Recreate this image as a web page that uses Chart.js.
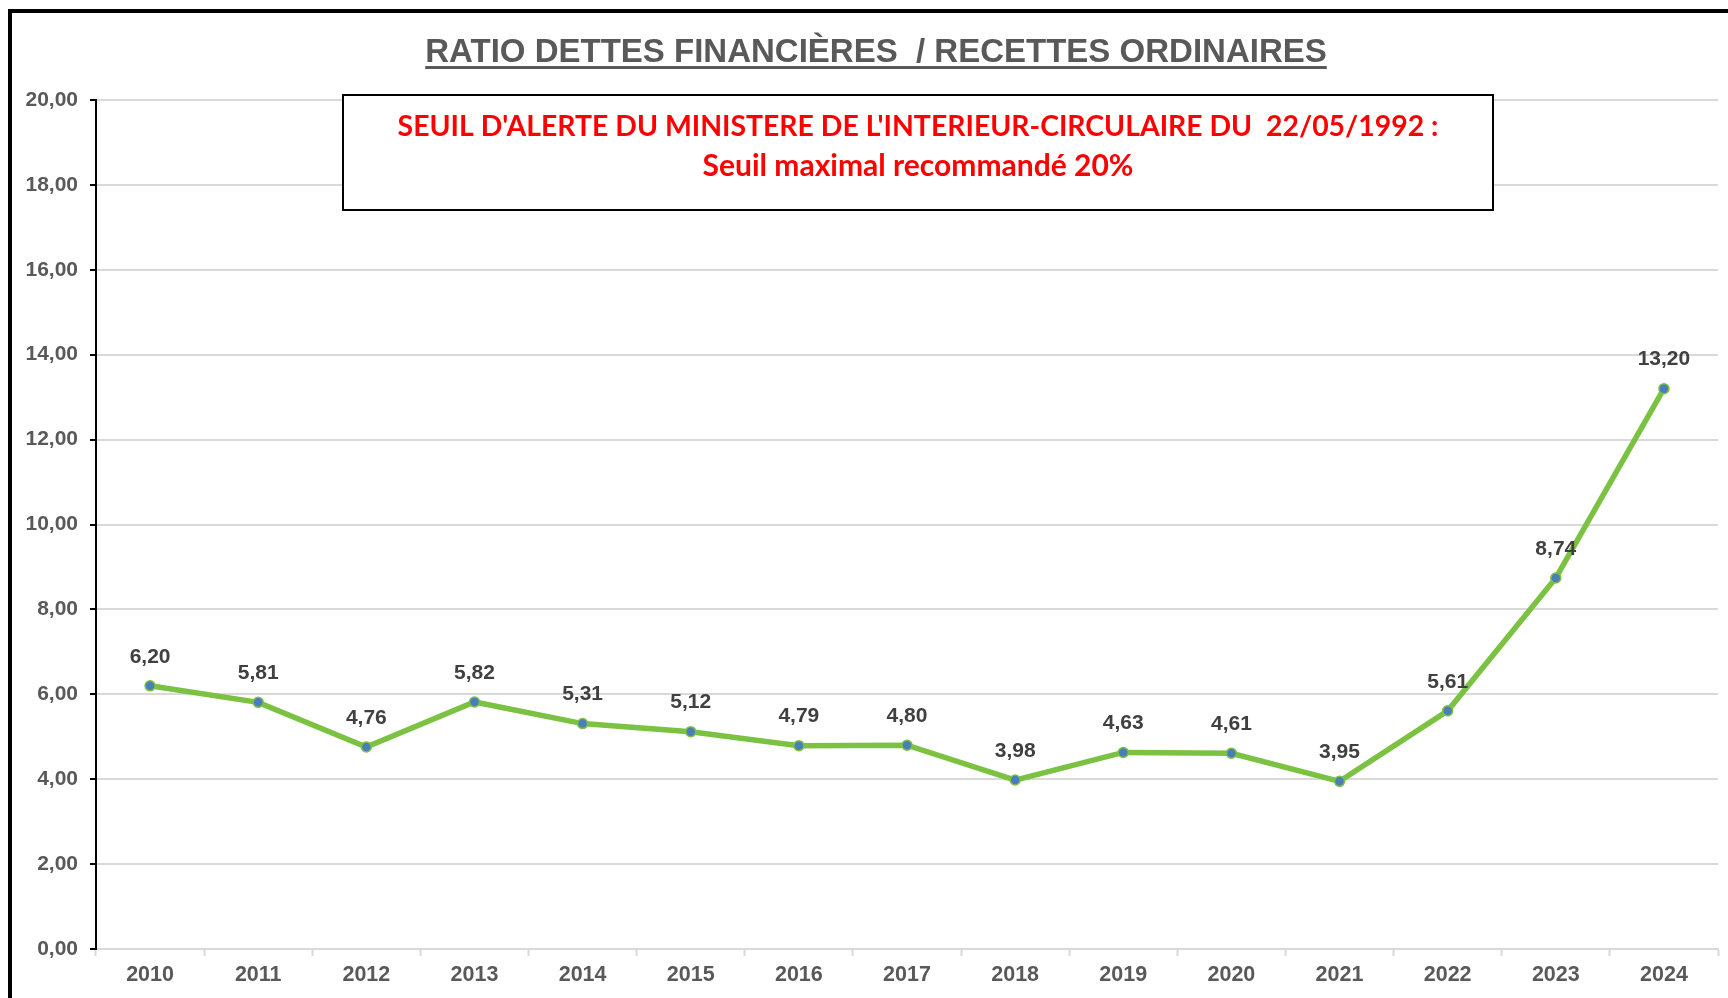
<!DOCTYPE html>
<html>
<head>
<meta charset="utf-8">
<script src="https://cdn.jsdelivr.net/npm/chart.js@4.4.1/dist/chart.umd.min.js"></script>
<style>
  html, body { margin: 0; padding: 0; background: #fff; }
</style>
</head>
<body>
<canvas id="ratioChart" width="1728" height="998"></canvas>
<script>
const years = ['2010', '2011', '2012', '2013', '2014', '2015', '2016', '2017', '2018', '2019', '2020', '2021', '2022', '2023', '2024'];
const ratioValues = [6.20, 5.81, 4.76, 5.82, 5.31, 5.12, 4.79, 4.80, 3.98, 4.63, 4.61, 3.95, 5.61, 8.74, 13.20];
const yMin = 0;
const yMax = 20;
const yStep = 2;
const chartTitle = 'RATIO DETTES FINANCIÈRES  / RECETTES ORDINAIRES';
const alertLines = ["SEUIL D'ALERTE DU MINISTERE DE L'INTERIEUR-CIRCULAIRE DU  22/05/1992 :", 'Seuil maximal recommandé 20%'];

const frenchNumber = v => Number(v).toFixed(2).replace('.', ',');

// frame, title and alert box drawn around the chart
const decorations = {
  id: 'decorations',
  beforeDraw(chart) {
    const c = chart.ctx;
    c.save();
    c.fillStyle = '#fff';
    c.fillRect(0, 0, chart.width, chart.height);
    c.fillStyle = '#000';
    c.fillRect(8, 9, 4, chart.height - 9);
    c.fillRect(8, 9, chart.width - 8, 4);
    c.restore();
  },
  afterDraw(chart) {
    const c = chart.ctx;
    c.save();
    // title
    c.font = 'bold 33px "Liberation Sans", Arial, sans-serif';
    c.fillStyle = '#595959';
    c.textAlign = 'center';
    c.textBaseline = 'alphabetic';
    const tx = 876;
    c.fillText(chartTitle, tx, 62);
    const tw = c.measureText(chartTitle).width;
    c.fillRect(tx - tw / 2, 66, tw, 3);

    // alert box
    c.fillStyle = '#fff';
    c.fillRect(343, 95, 1150, 115);
    c.strokeStyle = '#000';
    c.lineWidth = 2;
    c.strokeRect(343, 95, 1150, 115);
    c.fillStyle = '#ff0000';
    c.textBaseline = 'middle';
    c.font = 'bold 28.4px Lato, "Open Sans", sans-serif';
    c.fillText(alertLines[0], 918, 127);
    c.font = 'bold 30px Lato, "Open Sans", sans-serif';
    c.fillText(alertLines[1], 918, 166);
    c.restore();
  },
  afterDatasetsDraw(chart) {
    const c = chart.ctx;
    const meta = chart.getDatasetMeta(0);
    c.save();
    c.font = 'bold 21px "Liberation Sans", Arial, sans-serif';
    c.fillStyle = '#404040';
    c.textAlign = 'center';
    c.textBaseline = 'middle';
    meta.data.forEach((pt, i) => {
      c.fillText(frenchNumber(ratioValues[i]), pt.x, pt.y - 29);
    });
    c.restore();
  }
};

const ctx = document.getElementById('ratioChart').getContext('2d');

const ratioChart = new Chart(ctx, {
  type: 'line',
  data: {
    labels: years,
    datasets: [{
      label: 'Ratio',
      data: ratioValues,
      borderColor: '#7cc242',
      borderWidth: 5.5,
      fill: false,
      tension: 0,
      pointRadius: 5,
      pointBackgroundColor: '#4a7ebb',
      pointBorderColor: '#7cc242',
      pointBorderWidth: 1.5
    }]
  },
  options: {
    responsive: false,
    animation: false,
    layout: {
      padding: { top: 100, right: 10, left: 0, bottom: 0 }
    },
    plugins: {
      legend: { display: false },
      tooltip: { enabled: false }
    },
    scales: {
      x: {
        offset: true,
        afterFit(scale) { scale.height = 49; },
        grid: {
          offset: true,
          drawOnChartArea: false,
          drawTicks: true,
          tickLength: 7,
          tickColor: '#d9d9d9',
          tickWidth: 2
        },
        border: { color: '#d9d9d9', width: 2 },
        ticks: {
          color: '#595959',
          padding: 6,
          font: { family: '"Liberation Sans", Arial, sans-serif', size: 21.5, weight: 'bold' }
        }
      },
      y: {
        min: yMin,
        max: yMax,
        afterFit(scale) { scale.width = 96; },
        grid: {
          color: '#d9d9d9',
          lineWidth: 2,
          tickLength: 6,
          tickColor: '#000',
          tickWidth: 2
        },
        border: { color: '#000', width: 2 },
        ticks: {
          stepSize: yStep,
          color: '#595959',
          padding: 12,
          font: { family: '"Liberation Sans", Arial, sans-serif', size: 21, weight: 'bold' },
          callback: v => frenchNumber(v)
        }
      }
    }
  },
  plugins: [decorations]
});
</script>
</body>
</html>
